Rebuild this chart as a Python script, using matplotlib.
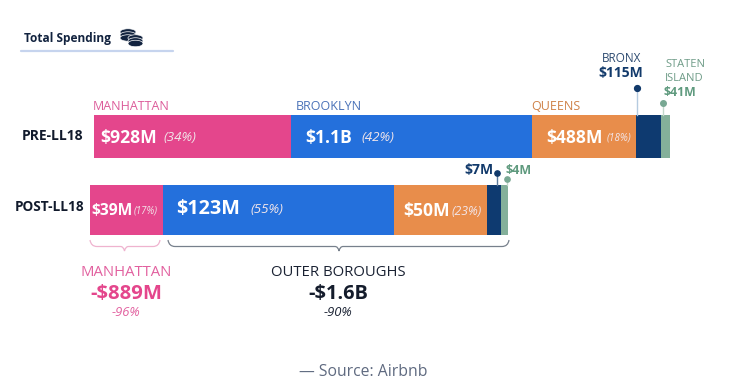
import matplotlib
matplotlib.use("Agg")
import matplotlib.pyplot as plt
from matplotlib.patches import Ellipse, PathPatch
from matplotlib.path import Path

plt.rcParams['font.family'] = ['Open Sans', 'DejaVu Sans']

boroughs = ["Manhattan", "Brooklyn", "Queens", "Bronx", "Staten Island"]
colors = ["#e4468c", "#2470dc", "#e88d4b", "#0e3a70", "#84b09a"]
pre_values = [928, 1132, 488, 115, 41]
post_values = [39, 123, 50, 7, 4]
pre_labels = ["$928M", "$1.1B", "$488M"]
pre_shares = ["(34%)", "(42%)", "(18%)"]
post_labels = ["$39M", "$123M", "$50M"]
post_shares = ["(17%)", "(55%)", "(23%)"]

W, H = 750, 389
DARK = "#12233f"
PINK = "#e4468c"
GREEN = "#5f9a7e"
NAVY = "#123a6b"

fig = plt.figure(figsize=(W / 100, H / 100), dpi=100)


def bar_axes(x0, x1, y0, y1, values):
    ax = fig.add_axes([x0 / W, 1 - y1 / H, (x1 - x0) / W, (y1 - y0) / H])
    left = 0
    for v, c in zip(values, colors):
        ax.barh(0, v, left=left, height=1, color=c, linewidth=0)
        left += v
    ax.set_xlim(0, sum(values))
    ax.set_ylim(-0.5, 0.5)
    ax.axis("off")
    return ax


bar_axes(93.5, 669.5, 115, 158, pre_values)
bar_axes(90, 508, 185, 235, post_values)

# overlay in pixel coordinates for all the annotations
ov = fig.add_axes([0, 0, 1, 1], zorder=5)
ov.set_xlim(0, W)
ov.set_ylim(H, 0)
ov.axis("off")
ov.patch.set_alpha(0)


def txt(x, y, s, size, color=DARK, weight="normal", style="normal", ha="left", **kw):
    ov.text(x, y, s, fontsize=size, color=color, fontweight=weight, fontstyle=style,
            ha=ha, va="center", **kw)


# title
txt(23.5, 38, "Total Spending", 8.6, weight="bold")
ov.plot([20.5, 172.5], [50.5, 50.5], color="#c6d4ee", lw=1.6, solid_capstyle="round")
for cx, cy, w in [(128, 32, 16), (128, 35, 16), (128, 38, 16), (135.5, 38, 15), (135.5, 41, 15), (135.5, 43.5, 15)]:
    ov.add_patch(Ellipse((cx, cy), w, 6.5, fc=DARK, ec="white", lw=0.5))

# row names
txt(83.5, 136, "PRE-LL18", 10, weight="bold", color="#111a2c", ha="right")
txt(84, 207, "POST-LL18", 9.8, weight="bold", color="#111a2c", ha="right")

# borough names above the top bar
txt(93, 106, "MANHATTAN", 9, color="#dc5c9a")
txt(296, 106, "BROOKLYN", 9, color="#4a72b8")
txt(531, 106, "QUEENS", 9, color="#cf8147")
txt(621.5, 58, "BRONX", 8.5, color="#2c4a70", ha="center")
txt(621, 73, "$115M", 10, color=NAVY, weight="bold", ha="center")
txt(665, 64, "STATEN", 8, color="#6f9c88")
txt(665, 78, "ISLAND", 8, color="#6f9c88")
txt(663, 92.5, "$41M", 8.8, color=GREEN, weight="bold")

# values inside the bars
for x, s, sx, sh, fs, ss in [(100.5, pre_labels[0], 163, pre_shares[0], 12.6, 9.6),
                             (305.5, pre_labels[1], 361, pre_shares[1], 12.6, 9.6),
                             (546, pre_labels[2], 607, pre_shares[2], 12.6, 7.2)]:
    txt(x, 138, s, fs, color="white", weight="bold")
    txt(sx, 137.5, sh, ss, color="#f2e6ea", style="italic")
for x, y, s, sx, sh, fs, ss in [(91, 211, post_labels[0], 134, post_shares[0], 11.2, 7),
                                (176.5, 209, post_labels[1], 250, post_shares[1], 14.2, 9.6),
                                (403, 211, post_labels[2], 452, post_shares[2], 12.6, 8.8)]:
    txt(x, y, s, fs, color="white", weight="bold")
    txt(sx, y, sh, ss, color="#f2e6ea", style="italic")

# leader lines with dots
ov.plot([636.5, 636.5], [88, 115], color="#b5cbe0", lw=1)
ov.plot([636.5], [88], "o", color=NAVY, ms=4.2)
ov.plot([663, 663], [102.5, 115], color="#c2d8cc", lw=1)
ov.plot([663], [102.5], "o", color="#78a893", ms=4)
ov.plot([496.5, 496.5], [172.5, 185], color="#5b7a9c", lw=1)
ov.plot([496.5], [172.5], "o", color=NAVY, ms=3.8)
ov.plot([506.5, 506.5], [179, 185], color="#c2d8cc", lw=1)
ov.plot([506.5], [179], "o", color="#78a893", ms=3.8)
txt(464, 170, "$7M", 10, color=NAVY, weight="bold")
txt(505.5, 170.5, "$4M", 9, color=GREEN, weight="bold")


def brace(x0, x1, tip, color):
    top, mid, bot = 240, 246.5, 251
    M, L, C = Path.MOVETO, Path.LINETO, Path.CURVE3
    verts = [(x0, top), (x0 + 1, mid), (x0 + 7, mid), (tip - 4, mid), (tip - 1, mid), (tip, bot),
             (tip + 1, mid), (tip + 4, mid), (x1 - 7, mid), (x1 - 1, mid), (x1, top)]
    codes = [M, C, C, L, C, C, C, C, L, C, C]
    ov.add_patch(PathPatch(Path(verts, codes), fc="none", ec=color, lw=0.9))


brace(90, 160, 124.5, "#efb3cf")
brace(168, 509, 339, "#77808c")

# summary under the bars
txt(126.5, 272.5, "MANHATTAN", 10.7, color="#e2609f", ha="center")
txt(126, 293.5, "-$889M", 14.6, color=PINK, weight="bold", ha="center")
txt(126.5, 313, "-96%", 9.4, color="#e2609f", style="italic", ha="center")
txt(338.5, 272.5, "OUTER BOROUGHS", 10.7, color="#1a2233", ha="center")
txt(338.5, 293.5, "-$1.6B", 14.4, color="#141c2c", weight="bold", ha="center")
txt(338.5, 313, "-90%", 9.4, color="#1a2233", style="italic", ha="center")

txt(363, 372.5, "— Source: Airbnb", 11.3, color="#5f6a80", ha="center")

fig.savefig("out.png", dpi=100, facecolor="white")
